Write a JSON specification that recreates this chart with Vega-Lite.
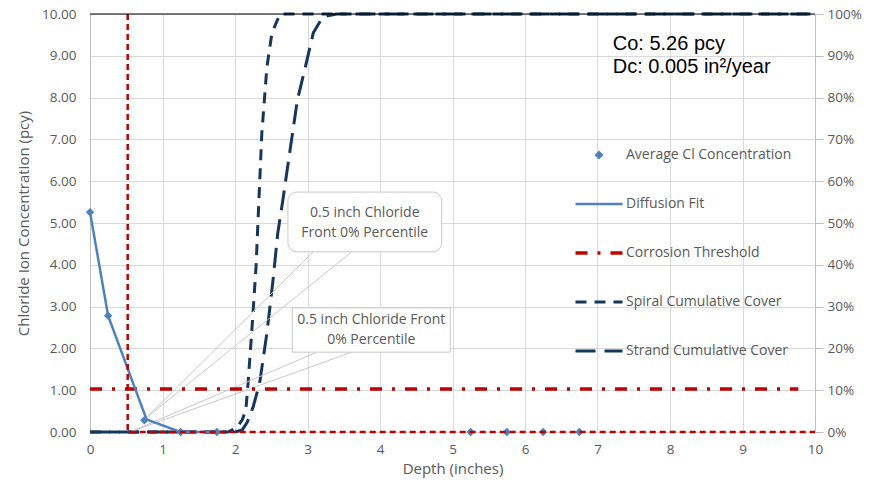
{
"$schema":"https://vega.github.io/schema/vega-lite/v6.json",
"width":725,"height":418,"autosize":"none",
"padding":{"left":90,"top":14,"right":68,"bottom":59},
"background":"white",
"config":{"view":{"stroke":null},"font":"Open Sans",
 "axis":{"labelFont":"Open Sans","titleFont":"Open Sans","labelColor":"#595959","titleColor":"#595959","labelFontSize":13.5,"titleFontSize":15,"titleFontWeight":"normal","gridColor":"#d9d9d9","domainColor":"#bfbfbf","tickColor":"#bfbfbf"},
 "legend":{"labelFont":"Open Sans","labelFontSize":14,"labelColor":"#595959"}},
"data":{"values":[
 {"s":"Average Cl Concentration","x":0,"y":5.26},
 {"s":"Average Cl Concentration","x":0.25,"y":2.78},
 {"s":"Average Cl Concentration","x":0.75,"y":0.28},
 {"s":"Average Cl Concentration","x":1.25,"y":0},
 {"s":"Average Cl Concentration","x":1.75,"y":0},
 {"s":"Average Cl Concentration","x":5.25,"y":0},
 {"s":"Average Cl Concentration","x":5.75,"y":0},
 {"s":"Average Cl Concentration","x":6.25,"y":0},
 {"s":"Average Cl Concentration","x":6.75,"y":0},
 {"s":"Diffusion Fit","x":0,"y":5.26},
 {"s":"Diffusion Fit","x":0.25,"y":2.78},
 {"s":"Diffusion Fit","x":0.78,"y":0.3},
 {"s":"Diffusion Fit","x":1.25,"y":0},
 {"s":"Diffusion Fit","x":1.75,"y":0},
 {"s":"Corrosion Threshold","x":0,"y":1.03},
 {"s":"Corrosion Threshold","x":9.77,"y":1.03},
 {"s":"Spiral Cumulative Cover","x":0,"pct":0},
 {"s":"Spiral Cumulative Cover","x":1.9,"pct":0},
 {"s":"Spiral Cumulative Cover","x":2.02,"pct":0.01},
 {"s":"Spiral Cumulative Cover","x":2.1,"pct":0.029},
 {"s":"Spiral Cumulative Cover","x":2.15,"pct":0.053},
 {"s":"Spiral Cumulative Cover","x":2.18,"pct":0.117},
 {"s":"Spiral Cumulative Cover","x":2.23,"pct":0.237},
 {"s":"Spiral Cumulative Cover","x":2.29,"pct":0.395},
 {"s":"Spiral Cumulative Cover","x":2.33,"pct":0.555},
 {"s":"Spiral Cumulative Cover","x":2.37,"pct":0.715},
 {"s":"Spiral Cumulative Cover","x":2.44,"pct":0.873},
 {"s":"Spiral Cumulative Cover","x":2.51,"pct":0.955},
 {"s":"Spiral Cumulative Cover","x":2.62,"pct":1.0},
 {"s":"Spiral Cumulative Cover","x":10,"pct":1.0},
 {"s":"Strand Cumulative Cover","x":0,"pct":0},
 {"s":"Strand Cumulative Cover","x":2.0,"pct":0},
 {"s":"Strand Cumulative Cover","x":2.1,"pct":0.005},
 {"s":"Strand Cumulative Cover","x":2.17,"pct":0.024},
 {"s":"Strand Cumulative Cover","x":2.25,"pct":0.06},
 {"s":"Strand Cumulative Cover","x":2.34,"pct":0.117},
 {"s":"Strand Cumulative Cover","x":2.44,"pct":0.237},
 {"s":"Strand Cumulative Cover","x":2.52,"pct":0.356},
 {"s":"Strand Cumulative Cover","x":2.59,"pct":0.476},
 {"s":"Strand Cumulative Cover","x":2.66,"pct":0.555},
 {"s":"Strand Cumulative Cover","x":2.76,"pct":0.675},
 {"s":"Strand Cumulative Cover","x":2.86,"pct":0.794},
 {"s":"Strand Cumulative Cover","x":2.97,"pct":0.873},
 {"s":"Strand Cumulative Cover","x":3.08,"pct":0.955},
 {"s":"Strand Cumulative Cover","x":3.21,"pct":0.993},
 {"s":"Strand Cumulative Cover","x":3.4,"pct":1.0},
 {"s":"Strand Cumulative Cover","x":10,"pct":1.0},
 {"s":"front","i":1,"x":0.52,"y":10},
 {"s":"front","i":2,"x":0.52,"y":0},
 {"s":"front","i":3,"x":10,"y":0},
 {"s":"wedge","x":0.79,"y":0.36,"x2":3.08,"y2":4.31},
 {"s":"wedge","x":0.79,"y":0.36,"x2":3.61,"y2":4.31},
 {"s":"wedge","x":0.55,"y":0,"x2":3.13,"y2":1.91},
 {"s":"wedge","x":0.55,"y":0,"x2":3.61,"y2":1.91},
 {"s":"box1","x":2.73,"x2":4.85,"y":4.31,"y2":5.74},
 {"s":"box2","x":2.79,"x2":4.97,"y":1.91,"y2":2.97},
 {"s":"boxtext","x":3.79,"y":5.25,"label":"0.5 inch Chloride\nFront 0% Percentile"},
 {"s":"boxtext","x":3.88,"y":2.69,"label":"0.5 inch Chloride Front\n0% Percentile"},
 {"s":"info","x":7.21,"y":9.28,"label":"Co: 5.26 pcy"},
 {"s":"info","x":7.21,"y":8.74,"label":"Dc: 0.005 in²/year"},
 {"s":"top","x":0,"x2":10,"y":10}
]},
"layer":[
 {"encoding":{
   "x":{"field":"x","type":"quantitative","scale":{"domain":[0,10],"nice":false},"axis":{"title":"Depth (inches)","values":[0,1,2,3,4,5,6,7,8,9,10],"grid":true,"ticks":false,"domain":false,"labelPadding":10,"titlePadding":6,"labelFlush":false}},
   "y":{"field":"pct","type":"quantitative","scale":{"domain":[0,1],"nice":false,"zero":false},"axis":{"orient":"right","format":".0%","values":[0,0.1,0.2,0.3,0.4,0.5,0.6,0.7,0.8,0.9,1],"grid":false,"ticks":true,"tickSize":8,"labelPadding":4,"title":null}}},
  "layer":[
   {"transform":[{"filter":"datum.s==='Spiral Cumulative Cover'"}],"mark":{"type":"line","strokeWidth":3},
    "encoding":{"color":{"field":"s","type":"nominal","scale":{"domain":["Average Cl Concentration","Diffusion Fit","Corrosion Threshold","Spiral Cumulative Cover","Strand Cumulative Cover"],"range":["#4f81bd","#4f81bd","#c00000","#17365d","#17365d"]},"legend":{
      "title":null,"orient":"none","legendX":502,"legendY":134,"padding":0,"offset":0,
      "symbolSize":2209,"symbolStrokeWidth":3,"labelOffset":20,"rowPadding":35,"labelLimit":300,
      "encode":{"symbols":{"update":{
        "shape":{"signal":"datum.value === 'Average Cl Concentration' ? 'diamond' : 'stroke'"},
        "size":{"signal":"datum.value === 'Average Cl Concentration' ? 80 : 2209"},
        "fill":{"signal":"datum.value === 'Average Cl Concentration' ? '#4f81bd' : 'transparent'"},
        "stroke":{"signal":"datum.value === 'Average Cl Concentration' ? 'transparent' : scale('color', datum.value)"},
        "strokeWidth":{"signal":"datum.value === 'Average Cl Concentration' ? 0 : (datum.value === 'Corrosion Threshold' ? 3.5 : (datum.value === 'Diffusion Fit' ? 2.5 : 3))"},
        "strokeDash":{"signal":"datum.value === 'Spiral Cumulative Cover' ? [12,12] : (datum.value === 'Strand Cumulative Cover' ? [17,18] : (datum.value === 'Corrosion Threshold' ? [12,11,3,11] : [1,0]))"},
        "opacity":{"value":1}}}}}},
     "strokeDash":{"field":"s","type":"nominal","scale":{"domain":["Average Cl Concentration","Diffusion Fit","Corrosion Threshold","Spiral Cumulative Cover","Strand Cumulative Cover"],"range":[[1,0],[1,0],[12,10,3,10],[11,8],[20,9]]},"legend":null}}},
   {"transform":[{"filter":"datum.s==='Strand Cumulative Cover'"}],"mark":{"type":"line","strokeWidth":3},
    "encoding":{"color":{"field":"s","type":"nominal"},"strokeDash":{"field":"s","type":"nominal","legend":null}}}
  ]},
 {"encoding":{
   "x":{"field":"x","type":"quantitative","scale":{"domain":[0,10],"nice":false},"axis":{"title":"Depth (inches)","values":[0,1,2,3,4,5,6,7,8,9,10],"grid":true,"ticks":false,"domain":false,"labelPadding":10,"titlePadding":6,"labelFlush":false}},
   "y":{"field":"y","type":"quantitative","scale":{"domain":[0,10],"nice":false},"axis":{"title":"Chloride Ion Concentration (pcy)","values":[0,1,2,3,4,5,6,7,8,9,10],"format":".2f","grid":true,"ticks":false,"labelPadding":14,"titlePadding":10}}},
  "layer":[
   {"transform":[{"filter":"datum.s==='wedge'"}],"mark":{"type":"rule","color":"#c8c8c8","strokeWidth":1},
    "encoding":{"x2":{"field":"x2"},"y2":{"field":"y2"}}},
   {"transform":[{"filter":"datum.s==='box1'"}],"mark":{"type":"rect","fill":"white","stroke":"#c8c8c8","strokeWidth":1,"cornerRadius":9},
    "encoding":{"x2":{"field":"x2"},"y2":{"field":"y2"}}},
   {"transform":[{"filter":"datum.s==='box2'"}],"mark":{"type":"rect","fill":"white","stroke":"#c8c8c8","strokeWidth":1},
    "encoding":{"x2":{"field":"x2"},"y2":{"field":"y2"}}},
   {"transform":[{"filter":"datum.s==='boxtext'"}],"mark":{"type":"text","align":"center","baseline":"middle","lineBreak":"\n","lineHeight":20,"fontSize":14,"color":"#595959","font":"Open Sans"},
    "encoding":{"text":{"field":"label"}}},
   {"transform":[{"filter":"datum.s==='Corrosion Threshold'"}],"mark":{"type":"line","strokeWidth":3.5},
    "encoding":{"color":{"field":"s","type":"nominal"},"strokeDash":{"field":"s","type":"nominal","legend":null}}},
   {"transform":[{"filter":"datum.s==='Diffusion Fit'"}],"mark":{"type":"line","strokeWidth":2.5},
    "encoding":{"color":{"field":"s","type":"nominal"},"strokeDash":{"field":"s","type":"nominal","legend":null}}},
   {"transform":[{"filter":"datum.s==='Average Cl Concentration'"}],"mark":{"type":"point","shape":"diamond","filled":true,"size":70,"opacity":1},
    "encoding":{"color":{"field":"s","type":"nominal"}}},
   {"transform":[{"filter":"datum.s==='front'"}],"mark":{"type":"line","color":"#c00000","strokeWidth":2.5,"strokeDash":[6,4]},
    "encoding":{"order":{"field":"i","type":"quantitative"}}},
   {"transform":[{"filter":"datum.s==='top'"}],"mark":{"type":"rule","color":"#000000","strokeWidth":1},
    "encoding":{"x2":{"field":"x2"}}},
   {"transform":[{"filter":"datum.s==='info'"}],"mark":{"type":"text","align":"left","baseline":"middle","fontSize":20,"font":"Liberation Sans","color":"#000000"},
    "encoding":{"text":{"field":"label"}}}
  ]}
],
"resolve":{"scale":{"y":"independent"},"axis":{"y":"independent"}}
}
